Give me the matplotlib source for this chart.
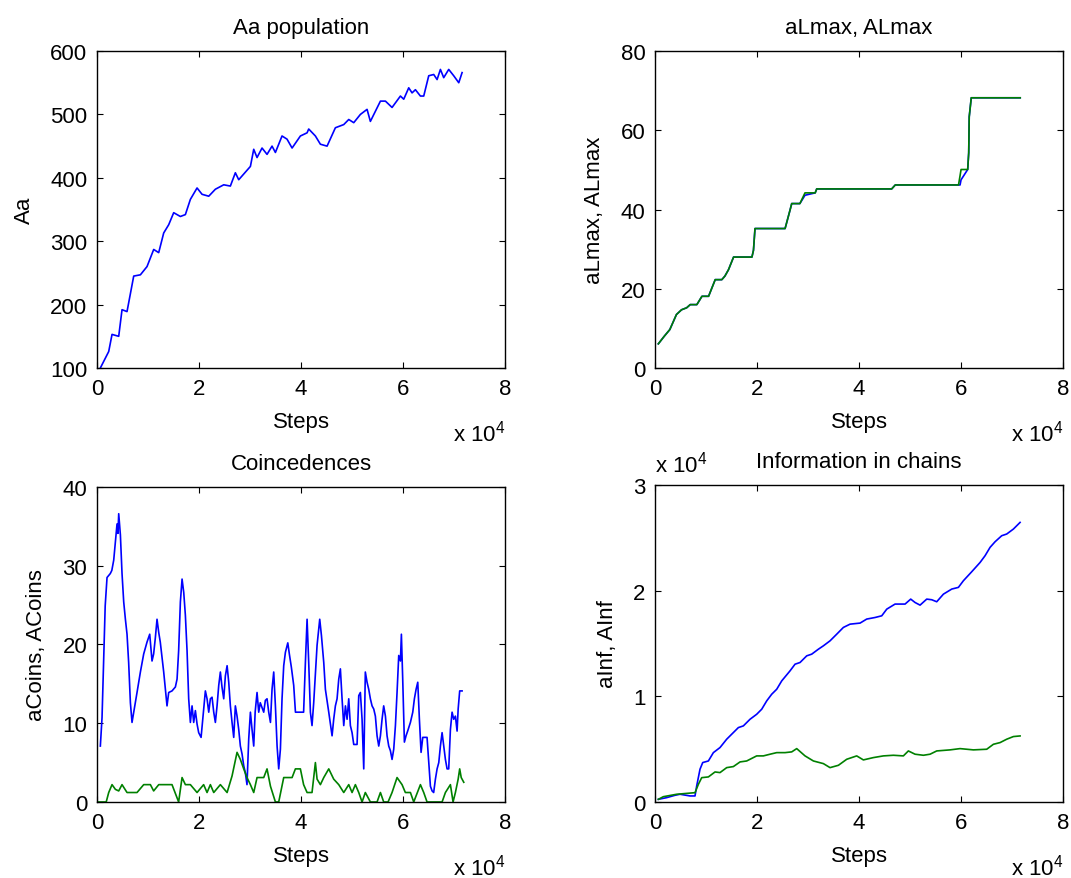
import numpy as np
import matplotlib
matplotlib.use('Agg')
import matplotlib.pyplot as plt
from matplotlib.ticker import FuncFormatter

plt.rcParams['font.family'] = ['Liberation Sans', 'DejaVu Sans']
plt.rcParams['font.size'] = 16
plt.rcParams['mathtext.fontset'] = 'custom'
plt.rcParams['mathtext.rm'] = 'Liberation Sans'
plt.rcParams['mathtext.default'] = 'regular'

BLUE = (0, 0, 1)
GREEN = (0, 0.5, 0)

# steps are given in units of 10^4
aa_steps = [0.065, 0.229, 0.294, 0.425, 0.49, 0.588, 0.719, 0.85, 0.98, 1.111, 1.209, 1.307,
            1.405, 1.503, 1.634, 1.732, 1.83, 1.961, 2.059, 2.19, 2.32, 2.484, 2.614, 2.712,
            2.778, 3.007, 3.072, 3.137, 3.235, 3.333, 3.431, 3.497, 3.627, 3.725, 3.824, 3.987,
            4.118, 4.15, 4.281, 4.379, 4.51, 4.673, 4.837, 4.935, 5.033, 5.163, 5.294, 5.359,
            5.556, 5.654, 5.784, 5.948, 6.013, 6.111, 6.176, 6.242, 6.34, 6.405, 6.503, 6.601,
            6.667, 6.732, 6.797, 6.895, 6.993, 7.092, 7.157]
aa_pop = [100, 126, 153, 150, 192, 189, 245, 247, 260, 287, 282, 313,
          326, 345, 339, 342, 366, 384, 374, 371, 382, 389, 387, 408,
          397, 418, 445, 432, 447, 437, 450, 440, 466, 461, 447, 466,
          471, 477, 466, 453, 450, 479, 484, 492, 487, 500, 508, 489,
          521, 521, 511, 529, 524, 542, 534, 539, 529, 529, 561, 563,
          555, 571, 558, 571, 561, 550, 566]

lmax_steps = [0.065, 0.18, 0.29, 0.42, 0.52, 0.62, 0.69, 0.82, 0.92, 1.05, 1.18, 1.31, 1.37,
              1.44, 1.54, 1.9, 1.93, 1.96, 2.55, 2.65, 2.68, 2.84, 2.94, 3.14, 3.17, 4.64,
              4.71, 5.95, 5.98, 6.0, 6.13, 6.15, 6.16, 6.2, 7.16]
aLmax = [6.1, 8.0, 9.7, 13.5, 14.7, 15.2, 16.0, 16.0, 18.1, 18.1, 22.3, 22.3, 23.2,
         24.8, 28.0, 28.0, 29.7, 35.2, 35.2, 40.0, 41.5, 41.5, 43.6, 44.2, 45.2, 45.2,
         46.2, 46.2, 46.2, 47.5, 50.1, 54.3, 63.4, 68.2, 68.2]
ALmax = [6.1, 8.0, 9.7, 13.5, 14.7, 15.2, 16.0, 16.0, 18.1, 18.1, 22.3, 22.3, 23.2,
         24.8, 28.0, 28.0, 29.7, 35.2, 35.2, 40.0, 41.5, 41.5, 44.2, 44.2, 45.2, 45.2,
         46.2, 46.2, 48.5, 50.1, 50.1, 54.3, 63.4, 68.2, 68.2]

acoins_steps = [0.065, 0.098, 0.13, 0.16, 0.196, 0.26, 0.29, 0.327, 0.36, 0.392, 0.41, 0.425,
                0.458, 0.49, 0.523, 0.556, 0.588, 0.62, 0.654, 0.686, 0.72, 0.784, 0.85, 0.915,
                0.98, 1.033, 1.078, 1.11, 1.144, 1.176, 1.21, 1.24, 1.307, 1.372, 1.405, 1.47,
                1.536, 1.569, 1.6, 1.634, 1.667, 1.7, 1.732, 1.765, 1.797, 1.83, 1.863, 1.895,
                1.928, 1.961, 1.993, 2.04, 2.09, 2.124, 2.157, 2.19, 2.222, 2.255, 2.288, 2.32,
                2.353, 2.386, 2.418, 2.45, 2.484, 2.516, 2.55, 2.582, 2.614, 2.647, 2.68, 2.712,
                2.745, 2.778, 2.81, 2.843, 2.876, 2.908, 2.94, 2.974, 3.007, 3.039, 3.072, 3.1,
                3.137, 3.17, 3.2, 3.268, 3.3, 3.333, 3.366, 3.4, 3.431, 3.464, 3.497, 3.53,
                3.562, 3.595, 3.627, 3.66, 3.693, 3.74, 3.77, 3.81, 3.856, 3.89, 4.05, 4.085,
                4.118, 4.15, 4.183, 4.215, 4.248, 4.314, 4.366, 4.4, 4.445, 4.477, 4.543, 4.608,
                4.64, 4.673, 4.706, 4.739, 4.771, 4.804, 4.837, 4.87, 4.902, 4.935, 4.967, 5.0,
                5.033, 5.098, 5.131, 5.163, 5.196, 5.229, 5.26, 5.294, 5.327, 5.359, 5.392, 5.425,
                5.457, 5.49, 5.523, 5.556, 5.588, 5.62, 5.654, 5.686, 5.719, 5.752, 5.784, 5.817,
                5.85, 5.882, 5.915, 5.948, 5.967, 5.993, 6.026, 6.058, 6.09, 6.144, 6.19, 6.222,
                6.255, 6.288, 6.32, 6.353, 6.386, 6.47, 6.503, 6.536, 6.569, 6.6, 6.634, 6.667,
                6.7, 6.732, 6.765, 6.797, 6.83, 6.863, 6.895, 6.928, 6.961, 6.993, 7.026, 7.059,
                7.08, 7.11, 7.157]
aCoins = [7.1, 10.7, 17.9, 24.9, 28.5, 29.0, 29.4, 30.7, 33.0, 35.3, 34.1, 36.6,
          33.9, 29.0, 25.4, 23.2, 21.3, 17.7, 12.6, 10.1, 11.4, 13.9, 16.5, 18.8,
          20.3, 21.3, 17.9, 18.8, 20.9, 23.2, 21.5, 20.3, 16.5, 12.2, 13.9, 14.1,
          14.6, 15.6, 19.2, 25.4, 28.3, 26.6, 23.7, 19.2, 13.1, 10.1, 12.2, 10.1,
          11.6, 9.9, 8.8, 8.2, 11.8, 14.1, 13.1, 11.4, 13.1, 13.3, 11.4, 10.1,
          12.2, 14.8, 16.5, 14.6, 13.1, 16.0, 17.3, 15.2, 12.2, 10.1, 8.2, 12.2,
          10.9, 9.2, 7.1, 6.1, 4.6, 3.7, 2.2, 8.0, 11.4, 9.2, 7.1, 11.4,
          13.9, 11.4, 12.6, 11.4, 12.9, 13.1, 11.4, 10.1, 14.3, 16.5, 12.2, 7.1,
          4.2, 6.7, 13.1, 17.3, 19.0, 20.2, 18.8, 17.1, 14.8, 11.4, 11.4, 17.7,
          23.2, 17.7, 11.4, 9.7, 12.6, 19.9, 23.2, 21.1, 17.7, 14.3, 11.4, 8.4,
          10.5, 12.2, 13.1, 15.6, 16.9, 13.1, 9.7, 12.2, 10.5, 13.1, 9.7, 8.8,
          7.3, 7.3, 13.5, 13.9, 10.5, 4.2, 16.5, 15.2, 14.3, 13.1, 12.2, 11.8,
          10.9, 8.4, 7.1, 8.4, 10.5, 12.2, 10.9, 8.4, 7.1, 6.5, 5.4, 6.7,
          9.7, 13.9, 18.6, 17.9, 21.3, 15.6, 7.6, 8.4, 9.0, 10.1, 11.4, 13.1,
          14.3, 15.2, 10.5, 6.3, 8.2, 8.2, 5.0, 2.0, 1.4, 1.2, 2.9, 4.2,
          5.0, 7.1, 8.8, 7.1, 5.4, 4.2, 4.2, 9.2, 11.4, 10.5, 10.9, 9.0,
          11.8, 14.1, 14.1]

Acoins_steps = [0.0, 0.18, 0.229, 0.294, 0.36, 0.425, 0.49, 0.588, 0.784, 0.915, 1.046, 1.11,
                1.21, 1.47, 1.6, 1.667, 1.732, 1.83, 1.961, 2.09, 2.157, 2.222, 2.288, 2.418,
                2.55, 2.647, 2.745, 2.81, 2.876, 2.94, 3.007, 3.072, 3.137, 3.268, 3.333, 3.4,
                3.497, 3.562, 3.66, 3.824, 3.889, 3.987, 4.05, 4.118, 4.215, 4.281, 4.314, 4.379,
                4.445, 4.543, 4.64, 4.739, 4.837, 4.935, 5.0, 5.065, 5.131, 5.196, 5.26, 5.359,
                5.49, 5.556, 5.62, 5.706, 5.784, 5.882, 5.98, 6.045, 6.144, 6.209, 6.34, 6.405,
                6.47, 6.765, 6.83, 6.928, 6.98, 7.026, 7.08, 7.11, 7.14, 7.19]
ACoins = [0, 0, 1.2, 2.2, 1.6, 1.4, 2.2, 1.2, 1.2, 2.2, 2.2, 1.4,
          2.2, 2.2, 0, 3.1, 2.2, 2.2, 1.2, 2.2, 1.2, 2.2, 1.2, 2.2,
          1.2, 3.3, 6.3, 5.4, 4.2, 3.1, 2.2, 1.2, 3.1, 3.1, 4.2, 2.0,
          0, 0, 3.1, 3.1, 4.2, 4.2, 2.2, 1.2, 1.2, 5.0, 2.9, 2.2,
          3.1, 4.2, 2.9, 2.2, 1.2, 2.2, 1.2, 2.2, 1.2, 0, 1.2, 0,
          0, 1.2, 0, 0, 1.2, 3.1, 2.2, 1.2, 1.2, 0, 2.2, 1.2,
          0, 0, 1.2, 2.2, 0, 1.2, 2.9, 4.2, 3.1, 2.5]

ainf_steps = [0.065, 0.229, 0.39, 0.49, 0.686, 0.784, 0.817, 0.882, 0.935, 1.046, 1.144, 1.274,
              1.405, 1.536, 1.634, 1.732, 1.863, 1.993, 2.092, 2.19, 2.288, 2.386, 2.484, 2.647,
              2.745, 2.843, 2.974, 3.072, 3.203, 3.301, 3.431, 3.562, 3.693, 3.824, 4.02, 4.15,
              4.314, 4.445, 4.543, 4.706, 4.902, 5.013, 5.098, 5.196, 5.327, 5.425, 5.523, 5.654,
              5.817, 5.948, 6.046, 6.209, 6.373, 6.471, 6.569, 6.667, 6.797, 6.895, 7.026, 7.157]
aInf = [0.025, 0.041, 0.063, 0.073, 0.057, 0.057, 0.152, 0.31, 0.373, 0.388, 0.467, 0.515,
        0.594, 0.657, 0.704, 0.72, 0.783, 0.83, 0.878, 0.957, 1.02, 1.067, 1.146, 1.241,
        1.304, 1.32, 1.383, 1.399, 1.446, 1.478, 1.525, 1.588, 1.652, 1.683, 1.693, 1.731,
        1.746, 1.762, 1.825, 1.873, 1.873, 1.92, 1.888, 1.863, 1.92, 1.914, 1.895, 1.967,
        2.015, 2.031, 2.094, 2.179, 2.267, 2.331, 2.41, 2.463, 2.52, 2.536, 2.583, 2.646]

Ainf_steps = [0.065, 0.163, 0.425, 0.784, 0.85, 0.915, 1.046, 1.176, 1.274, 1.405, 1.536, 1.667,
              1.797, 1.993, 2.124, 2.255, 2.386, 2.549, 2.68, 2.778, 2.941, 3.105, 3.301, 3.431,
              3.595, 3.758, 3.954, 4.085, 4.281, 4.477, 4.673, 4.869, 4.967, 5.098, 5.261, 5.392,
              5.523, 5.784, 5.98, 6.242, 6.503, 6.634, 6.765, 6.895, 7.026, 7.157]
AInf = [0.025, 0.05, 0.073, 0.088, 0.167, 0.23, 0.237, 0.284, 0.278, 0.325, 0.335, 0.379,
        0.388, 0.436, 0.436, 0.452, 0.467, 0.467, 0.474, 0.505, 0.436, 0.388, 0.363, 0.325,
        0.347, 0.404, 0.436, 0.398, 0.42, 0.436, 0.442, 0.436, 0.483, 0.452, 0.442, 0.452,
        0.483, 0.493, 0.505, 0.493, 0.499, 0.546, 0.562, 0.594, 0.619, 0.625]


def steps(v):
    return np.array(v) * 1e4


def style(ax, title, ylabel, yticks):
    ax.set_xlim(0, 80000)
    ax.set_xticks([0, 20000, 40000, 60000, 80000])
    ax.xaxis.set_major_formatter(FuncFormatter(lambda v, p: f'{v / 1e4:g}'))
    ax.set_ylim(yticks[0], yticks[-1])
    ax.set_yticks(yticks)
    ax.tick_params(direction='in', length=4, width=0.8, top=True, right=True, pad=7)
    for s in ax.spines.values():
        s.set_linewidth(1.0)
    ax.set_title(title, pad=13, fontsize=16)
    ax.set_xlabel('Steps', labelpad=9)
    ax.set_ylabel(ylabel, labelpad=11)
    ax.text(1.0, -73 / 317, r'x 10$^{4}$', transform=ax.transAxes,
            ha='right', va='baseline')


fig = plt.figure(figsize=(10.71, 8.79), dpi=100)
ax1 = fig.add_axes([0.0906, 0.5802, 0.381, 0.3606])
ax2 = fig.add_axes([0.6116, 0.5802, 0.381, 0.3606])
ax3 = fig.add_axes([0.0906, 0.0865, 0.381, 0.3584])
ax4 = fig.add_axes([0.6116, 0.0865, 0.381, 0.3606])

ax1.plot(steps(aa_steps), aa_pop, color=BLUE, lw=1.2)
style(ax1, 'Aa population', 'Aa', [100, 200, 300, 400, 500, 600])

ax2.plot(steps(lmax_steps), aLmax, color=BLUE, lw=1.2)
ax2.plot(steps(lmax_steps), ALmax, color=GREEN, lw=1.2)
style(ax2, 'aLmax, ALmax', 'aLmax, ALmax', [0, 20, 40, 60, 80])

ax3.plot(steps(acoins_steps), aCoins, color=BLUE, lw=1.2)
ax3.plot(steps(Acoins_steps), ACoins, color=GREEN, lw=1.2)
style(ax3, 'Coincedences', 'aCoins, ACoins', [0, 10, 20, 30, 40])

ax4.plot(steps(ainf_steps), steps(aInf), color=BLUE, lw=1.2)
ax4.plot(steps(Ainf_steps), steps(AInf), color=GREEN, lw=1.2)
style(ax4, 'Information in chains', 'aInf, AInf', [0, 10000, 20000, 30000])
ax4.yaxis.set_major_formatter(FuncFormatter(lambda v, p: f'{v / 1e4:g}'))
ax4.text(0.0, 1 + 14 / 317, r'x 10$^{4}$', transform=ax4.transAxes,
         ha='left', va='baseline')

fig.savefig('out.png', dpi=100)
